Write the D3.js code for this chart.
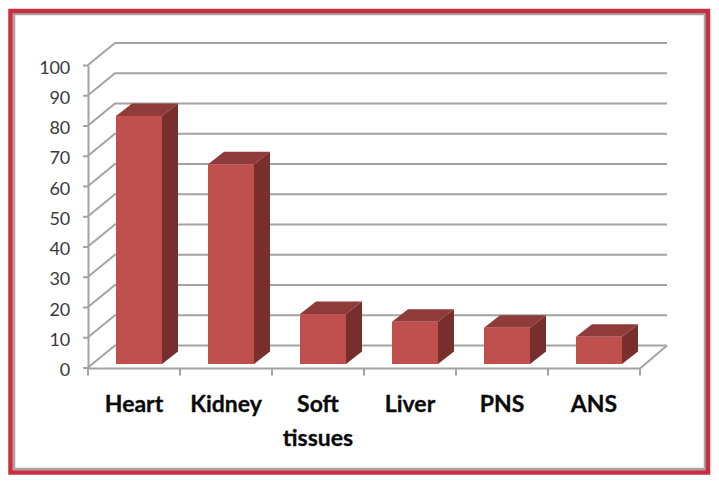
<!DOCTYPE html>
<html>
<head>
<meta charset="utf-8">
<script src="https://cdnjs.cloudflare.com/ajax/libs/d3/7.8.5/d3.min.js"></script>
<style>
    html, body { margin: 0; padding: 0; background: #fff; }
    svg { display: block; }
    .tick-label { font-family: Lato, "Open Sans", sans-serif; font-size: 18px; letter-spacing: -0.2px; fill: #3a3a3a; }
    .cat-label { font-family: Lato, "Open Sans", sans-serif; font-size: 23px; font-weight: 700; fill: #0a0a0a; stroke: #0a0a0a; stroke-width: 0.3px; }
</style>
</head>
<body>
<svg id="chart" width="719" height="484"></svg>
<script>
const categories = ['Heart', 'Kidney', 'Soft tissues', 'Liver', 'PNS', 'ANS'];
const values = [82, 66, 16.5, 14, 12, 9];
const yTicks = [0, 10, 20, 30, 40, 50, 60, 70, 80, 90, 100];

const svg = d3.select('#chart');
const gridColor = '#a3a3a3';

// front plane of the fake 3d box, the back wall is shifted by depthX/depthY
const depthX = 27;
const depthY = 22;
const x = d3.scaleBand().domain(categories).range([88, 640]).paddingInner(0).paddingOuter(0);
const y = d3.scaleLinear().domain([0, 100]).range([367.5, 65]);

// picture frame
svg.append('rect').attr('x', 14).attr('y', 14).attr('width', 691).attr('height', 455)
    .attr('fill', '#fff').attr('stroke', '#a8a4a5').attr('stroke-width', 2.5);
svg.append('rect').attr('x', 10.5).attr('y', 11).attr('width', 697.5).attr('height', 461.5)
    .attr('fill', 'none').attr('stroke', '#c9303f').attr('stroke-width', 4.5);

const grid = svg.append('g').attr('fill', 'none').attr('stroke', gridColor).attr('stroke-width', 2);

grid.selectAll('path').data(yTicks).enter().append('path')
    .attr('d', t => `M${x.range()[0]},${y(t)}L${x.range()[0] + depthX},${y(t) - depthY}H${x.range()[1] + depthX}`);

// floor edge on the right
grid.append('path')
    .attr('d', `M${x.range()[1]},${y(0) + 1}L${x.range()[1] + depthX},${y(0) - depthY}`);

const yAxis = d3.axisLeft(y).tickValues(yTicks).tickSize(5).tickPadding(13).tickSizeOuter(0);
const yG = svg.append('g').attr('transform', `translate(${x.range()[0]},0)`).call(yAxis);
yG.select('.domain').attr('stroke', gridColor).attr('stroke-width', 2);
yG.selectAll('.tick line').attr('stroke', gridColor).attr('stroke-width', 2);
yG.selectAll('.tick text').attr('class', 'tick-label').attr('fill', null).attr('dy', '0.45em');

// x axis line and ticks sit on band edges, not centres
const xEdges = [...categories.map(c => x(c)), x.range()[1]];
const xG = svg.append('g').attr('stroke', gridColor).attr('stroke-width', 2);
xG.append('line').attr('x1', x.range()[0] - 1).attr('x2', x.range()[1])
    .attr('y1', y(0) + 1).attr('y2', y(0) + 1);
xG.selectAll('.x-tick').data(xEdges).enter().append('line')
    .attr('class', 'x-tick')
    .attr('x1', d => d).attr('x2', d => d)
    .attr('y1', y(0) + 1).attr('y2', y(0) + 8);

// bars, drawn as front + top + side faces
const barW = 46;
const barDx = 16;
const barDy = 12.5;
const barOffX = 5;
const barOffY = 3.5;

const bars = svg.selectAll('.bar').data(categories.map((c, i) => ({ c, v: values[i] })))
    .enter().append('g').attr('class', 'bar');

const barLeft = d => x(d.c) + x.bandwidth() / 2 - barW / 2 + barOffX;
const barTop = d => y(d.v) - barOffY;
const barBottom = y(0) - barOffY;

bars.append('path').attr('fill', '#8f3b39')
    .attr('d', d => `M${barLeft(d)},${barTop(d)}l${barDx},${-barDy}h${barW}l${-barDx},${barDy}Z`);
bars.append('path').attr('fill', '#772e2c')
    .attr('d', d => `M${barLeft(d) + barW},${barTop(d)}l${barDx},${-barDy}V${barBottom - barDy}l${-barDx},${barDy}Z`);
bars.append('rect').attr('fill', '#c0504d')
    .attr('x', barLeft).attr('y', barTop)
    .attr('width', barW).attr('height', d => barBottom - barTop(d));

// category labels, wrapped on the space like the original
const labels = svg.selectAll('.cat-label').data(categories).enter().append('text')
    .attr('class', 'cat-label')
    .attr('text-anchor', 'middle')
    .attr('y', 412);
labels.selectAll('tspan').data(d => d.split(' ').map(w => ({ w, c: d }))).enter().append('tspan')
    .attr('x', d => x(d.c) + x.bandwidth() / 2)
    .attr('dy', (d, i) => (i ? 34 : 0))
    .text(d => d.w);
</script>
</body>
</html>
